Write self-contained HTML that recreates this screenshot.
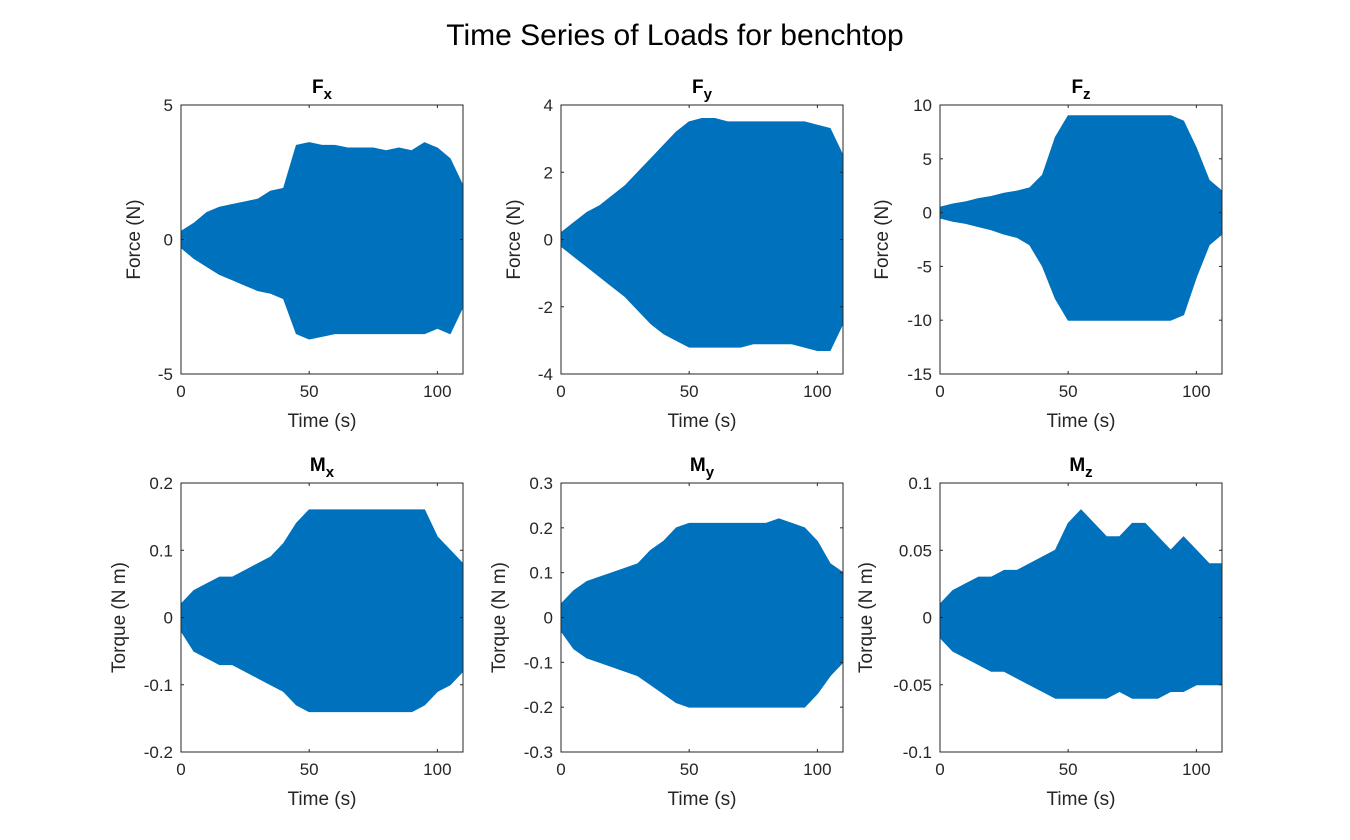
<!DOCTYPE html>
<html><head><meta charset="utf-8"><style>
html,body{margin:0;padding:0;background:#fff;}
svg{display:block;font-family:"Liberation Sans",Arial,sans-serif;}
</style></head><body>
<svg id="fig" width="1350" height="840">
<text x="675" y="45" text-anchor="middle" font-size="30" fill="#000">Time Series of Loads for benchtop</text>
</svg>
<script>
const times=[0,5,10,15,20,25,30,35,40,45,50,55,60,65,70,75,80,85,90,95,100,105,110];
const fxUpper=[0.3,0.6,1.0,1.2,1.3,1.4,1.5,1.8,1.9,3.5,3.6,3.5,3.5,3.4,3.4,3.4,3.3,3.4,3.3,3.6,3.4,3.0,2.0];
const fxLower=[-0.3,-0.7,-1.0,-1.3,-1.5,-1.7,-1.9,-2.0,-2.2,-3.5,-3.7,-3.6,-3.5,-3.5,-3.5,-3.5,-3.5,-3.5,-3.5,-3.5,-3.3,-3.5,-2.5];
const fyUpper=[0.2,0.5,0.8,1.0,1.3,1.6,2.0,2.4,2.8,3.2,3.5,3.6,3.6,3.5,3.5,3.5,3.5,3.5,3.5,3.5,3.4,3.3,2.5];
const fyLower=[-0.2,-0.5,-0.8,-1.1,-1.4,-1.7,-2.1,-2.5,-2.8,-3.0,-3.2,-3.2,-3.2,-3.2,-3.2,-3.1,-3.1,-3.1,-3.1,-3.2,-3.3,-3.3,-2.5];
const fzUpper=[0.5,0.8,1.0,1.3,1.5,1.8,2.0,2.3,3.5,7,9,9,9,9,9,9,9,9,9,8.5,6,3,2];
const fzLower=[-0.5,-0.8,-1.0,-1.3,-1.6,-2.0,-2.3,-3.0,-5,-8,-10,-10,-10,-10,-10,-10,-10,-10,-10,-9.5,-6,-3,-2];
const mxUpper=[.02,.04,.05,.06,.06,.07,.08,.09,.11,.14,.16,.16,.16,.16,.16,.16,.16,.16,.16,.16,.12,.10,.08];
const mxLower=[-.02,-.05,-.06,-.07,-.07,-.08,-.09,-.10,-.11,-.13,-.14,-.14,-.14,-.14,-.14,-.14,-.14,-.14,-.14,-.13,-.11,-.10,-.08];
const myUpper=[.03,.06,.08,.09,.10,.11,.12,.15,.17,.20,.21,.21,.21,.21,.21,.21,.21,.22,.21,.20,.17,.12,.10];
const myLower=[-.03,-.07,-.09,-.10,-.11,-.12,-.13,-.15,-.17,-.19,-.20,-.20,-.20,-.20,-.20,-.20,-.20,-.20,-.20,-.20,-.17,-.13,-.10];
const mzUpper=[.01,.02,.025,.03,.03,.035,.035,.04,.045,.05,.07,.08,.07,.06,.06,.07,.07,.06,.05,.06,.05,.04,.04];
const mzLower=[-.015,-.025,-.03,-.035,-.04,-.04,-.045,-.05,-.055,-.06,-.06,-.06,-.06,-.06,-.055,-.06,-.06,-.06,-.055,-.055,-.05,-.05,-.05];
const xTicks=[0,50,100];
const fxTicks=[-5,0,5], fyTicks=[-4,-2,0,2,4], fzTicks=[-15,-10,-5,0,5,10];
const mxTicks=[-0.2,-0.1,0,0.1,0.2], myTicks=[-0.3,-0.2,-0.1,0,0.1,0.2,0.3], mzTicks=[-0.1,-0.05,0,0.05,0.1];

const NS='http://www.w3.org/2000/svg';
const svg=document.getElementById('fig');
function mk(tag,attrs,parent){const e=document.createElementNS(NS,tag);for(const k in attrs)e.setAttribute(k,attrs[k]);(parent||svg).appendChild(e);return e;}

const panels=[
 {id:'fx',t:'F',s:'x',x0:181,y0:105,up:fxUpper,lo:fxLower,ticks:fxTicks,yl:'Force (N)',lx:140},
 {id:'fy',t:'F',s:'y',x0:561,y0:105,up:fyUpper,lo:fyLower,ticks:fyTicks,yl:'Force (N)',lx:520},
 {id:'fz',t:'F',s:'z',x0:940,y0:105,up:fzUpper,lo:fzLower,ticks:fzTicks,yl:'Force (N)',lx:888},
 {id:'mx',t:'M',s:'x',x0:181,y0:483,up:mxUpper,lo:mxLower,ticks:mxTicks,yl:'Torque (N m)',lx:125},
 {id:'my',t:'M',s:'y',x0:561,y0:483,up:myUpper,lo:myLower,ticks:myTicks,yl:'Torque (N m)',lx:505},
 {id:'mz',t:'M',s:'z',x0:940,y0:483,up:mzUpper,lo:mzLower,ticks:mzTicks,yl:'Torque (N m)',lx:872}
];
const W=282,H=269;
panels.forEach(p=>{
 const g=mk('g',{});
 
 
 const ymin=p.ticks[0],ymax=p.ticks[p.ticks.length-1];
 const xs=v=>p.x0+v/110*W;
 const ys=v=>p.y0+H-(v-ymin)/(ymax-ymin)*H;
 let d='M'+times.map((t,i)=>xs(t)+','+ys(p.up[i])).join('L');
 for(let i=times.length-1;i>=0;i--)d+='L'+xs(times[i])+','+ys(p.lo[i]);
 const a=mk('path',{d:d+'Z',fill:'#0072BD',stroke:'#0072BD','stroke-width':1,'stroke-linejoin':'round'},g);
 
 
 const ax=mk('rect',{x:p.x0,y:p.y0,width:W,height:H,fill:'none',stroke:'#262626','stroke-width':1},g);
 
 
 xTicks.forEach(v=>{
  mk('line',{x1:xs(v),x2:xs(v),y1:p.y0+H,y2:p.y0+H-3,stroke:'#262626'},g);
  mk('line',{x1:xs(v),x2:xs(v),y1:p.y0,y2:p.y0+3,stroke:'#262626'},g);
  const t=mk('text',{x:xs(v),y:p.y0+H+23,'text-anchor':'middle','font-size':17,fill:'#262626'},g);
  t.textContent=v;
  
  
 });
 p.ticks.forEach(v=>{
  mk('line',{x1:p.x0,x2:p.x0+3,y1:ys(v),y2:ys(v),stroke:'#262626'},g);
  mk('line',{x1:p.x0+W,x2:p.x0+W-3,y1:ys(v),y2:ys(v),stroke:'#262626'},g);
  const t=mk('text',{x:p.x0-8,y:ys(v)+6,'text-anchor':'end','font-size':17,fill:'#262626'},g);
  t.textContent=String(v);
  
  
 });
 const xl=mk('text',{x:p.x0+W/2,y:p.y0+H+53,'text-anchor':'middle','font-size':19,fill:'#262626'},g);
 xl.textContent='Time (s)';
 
 
 const yl=mk('text',{x:p.lx,y:p.y0+H/2,'text-anchor':'middle','font-size':19,fill:'#262626',transform:`rotate(-90 ${p.lx} ${p.y0+H/2})`},g);
 yl.textContent=p.yl;
 
 
 const tt=mk('text',{x:p.x0+W/2,y:p.y0-12,'text-anchor':'middle','font-size':19,'font-weight':'bold',fill:'#000'},g);
 
 
 const t1=mk('tspan',{},tt);t1.textContent=p.t;
 const t2=mk('tspan',{dy:6,'font-size':15},tt);t2.textContent=p.s;
});
</script>
</body></html>
